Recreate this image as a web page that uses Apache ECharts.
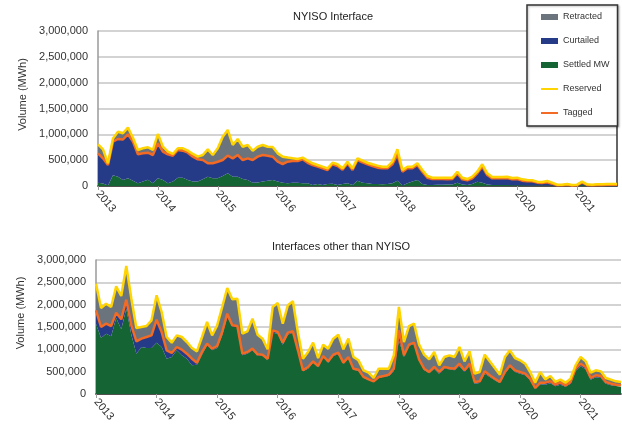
<!DOCTYPE html>
<html><head><meta charset="utf-8">
<script src="https://cdn.jsdelivr.net/npm/echarts@6/dist/echarts.min.js"></script>
<style>html,body{margin:0;padding:0;background:#fff}#c{width:622px;height:430px}</style>
</head><body><div id="c"></div>
<script>
// ---- data (monthly, Jan 2013 .. Sep 2021) ----
const years = ['2013','2014','2015','2016','2017','2018','2019','2020','2021'];
const seriesNames = ['Retracted','Curtailed','Settled MW','Reserved','Tagged'];
const yTicks = [0, 500000, 1000000, 1500000, 2000000, 2500000, 3000000];

// NYISO Interface
const nyisoReserved = [806000,710000,440000,920000,1050000,1020000,1130000,935000,697000,730000,750000,700000,
1006000,760000,665000,620000,730000,730000,684000,620000,568000,600000,710000,600000,
730000,955000,1084000,794000,910000,760000,794000,684000,760000,794000,760000,755000,
632000,568000,550000,535000,523000,550000,490000,440000,406000,374000,342000,450000,
420000,342000,470000,342000,535000,490000,450000,420000,394000,374000,374000,470000,
710000,310000,374000,374000,440000,310000,194000,161000,161000,161000,161000,161000,
277000,161000,135000,180000,277000,420000,245000,174000,174000,174000,180000,155000,
161000,129000,116000,110000,84000,77000,97000,65000,26000,26000,39000,20000,
26000,84000,32000,26000,32000,32000,39000,39000,39000];
const nyisoTagged = [632000,535000,406000,858000,910000,900000,1000000,860000,613000,632000,645000,600000,
826000,665000,613000,587000,697000,684000,645000,568000,516000,503000,440000,440000,
470000,503000,587000,535000,600000,503000,535000,503000,568000,600000,587000,568000,
470000,426000,470000,484000,484000,516000,450000,406000,374000,342000,310000,420000,
387000,316000,440000,310000,503000,458000,420000,387000,355000,342000,342000,420000,
613000,277000,342000,342000,406000,277000,161000,135000,135000,135000,130000,135000,
245000,129000,110000,148000,245000,374000,213000,148000,148000,148000,155000,129000,
135000,103000,90000,90000,65000,58000,71000,45000,13000,13000,26000,10000,
16000,65000,20000,16000,20000,20000,26000,26000,26000];
const nyisoSettled = [65000,50000,10000,210000,180000,115000,150000,100000,55000,85000,120000,55000,
150000,115000,55000,85000,160000,160000,115000,85000,85000,130000,180000,150000,
150000,195000,245000,180000,180000,135000,115000,65000,70000,85000,100000,115000,
85000,65000,52000,65000,65000,52000,52000,20000,40000,20000,40000,45000,
20000,40000,52000,20000,100000,65000,52000,40000,40000,32000,40000,52000,
100000,10000,52000,85000,115000,40000,20000,20000,25000,25000,30000,30000,
65000,30000,20000,40000,84000,65000,30000,20000,20000,20000,20000,15000,
15000,15000,10000,10000,10000,10000,10000,10000,5000,5000,5000,5000,
5000,20000,5000,5000,10000,10000,10000,15000,20000];

// Interfaces other than NYISO
const otherReserved = [2470000,1925000,2022000,1948000,2410000,2194000,2866000,2134000,1478000,1500000,1522000,1649000,
2209000,1836000,1276000,1149000,1313000,1276000,1164000,1030000,955000,1276000,1612000,1313000,
1537000,1948000,2373000,2119000,2134000,1351000,1403000,1687000,1328000,1239000,1000000,1948000,
2037000,1575000,1985000,2075000,1373000,791000,940000,1149000,806000,1104000,1015000,1239000,
1328000,1000000,1239000,828000,754000,530000,478000,358000,567000,567000,567000,866000,
1948000,1164000,1522000,1575000,1104000,881000,776000,940000,642000,828000,866000,828000,
1052000,731000,955000,455000,493000,881000,731000,582000,433000,828000,978000,806000,
754000,679000,493000,254000,493000,328000,403000,269000,321000,254000,343000,642000,
828000,731000,478000,530000,507000,358000,321000,284000,269000];
const otherTagged = [1873000,1500000,1575000,1522000,1821000,1672000,2112000,1537000,1179000,1239000,1276000,1313000,
1664000,1388000,978000,918000,1052000,993000,903000,791000,702000,940000,1127000,1015000,
1075000,1388000,1798000,1537000,1522000,903000,940000,1015000,888000,881000,791000,1425000,
1388000,1149000,1373000,1403000,978000,530000,605000,731000,627000,851000,731000,881000,
925000,702000,828000,567000,545000,381000,328000,284000,381000,403000,433000,567000,
1425000,866000,1104000,1149000,776000,567000,493000,605000,493000,605000,582000,567000,
679000,530000,679000,269000,284000,507000,418000,343000,269000,493000,642000,530000,
493000,455000,343000,134000,254000,254000,284000,209000,254000,194000,269000,567000,
679000,605000,358000,418000,403000,269000,231000,209000,194000];
const otherSettled = [1575000,1254000,1350000,1291000,1700000,1448000,1910000,1328000,903000,1052000,1030000,1030000,
1150000,1052000,791000,828000,978000,866000,791000,642000,657000,881000,1090000,978000,
1030000,1313000,1724000,1500000,1500000,866000,903000,978000,851000,851000,754000,1373000,
1351000,1104000,1328000,1373000,940000,507000,567000,702000,597000,828000,702000,851000,
888000,672000,791000,545000,522000,358000,313000,269000,358000,388000,403000,507000,
1201000,828000,1075000,1127000,746000,537000,463000,567000,448000,567000,552000,530000,
619000,493000,627000,231000,246000,455000,381000,306000,246000,455000,605000,493000,
455000,418000,306000,104000,216000,209000,239000,172000,209000,164000,231000,515000,
619000,552000,321000,373000,358000,231000,194000,179000,164000];

// ---- build ----
const months = [];
for (let i = 0; i < nyisoSettled.length; i++) {
  months.push(years[Math.floor(i / 12)] + '-' + String(i % 12 + 1).padStart(2, '0'));
}
const diff = (a, b) => a.map((v, i) => Math.max(0, v - b[i]));

const COL = { ret: '#6b737d', cur: '#263b88', set: '#146434', res: '#ffd400', tag: '#f26a24' };
const sans = "'Liberation Sans', Arial, sans-serif";

function xAxisFor(gi) {
  return {
    type: 'category', gridIndex: gi, data: months, boundaryGap: false,
    axisLine: { lineStyle: { color: '#9a9a9a', width: 1.5 } },
    axisTick: { length: 4, lineStyle: { color: '#9a9a9a' }, interval: (i) => i % 12 === 0 },
    axisLabel: {
      interval: (i) => i % 12 === 0, rotate: -50, margin: 6,
      formatter: (v) => v.slice(0, 4), color: '#333', fontSize: 11, fontFamily: sans
    },
    splitLine: { show: false }
  };
}
function topFrame(gi) {
  return { type: 'category', gridIndex: gi, data: months, position: 'top', boundaryGap: false,
    axisLine: { lineStyle: { color: '#333', width: 1.5 } }, axisTick: { show: false },
    axisLabel: { show: false }, splitLine: { show: false } };
}
function yAxisFor(gi) {
  return {
    type: 'value', gridIndex: gi, min: yTicks[0], max: yTicks[yTicks.length - 1], interval: yTicks[1],
    name: 'Volume (MWh)', nameLocation: 'middle', nameGap: 64,
    nameTextStyle: { color: '#333', fontSize: 11, fontFamily: sans, padding: [0, 0, 0, 28] },
    axisLine: { show: true, lineStyle: { color: '#9a9a9a', width: 1.5 } },
    axisTick: { show: false },
    axisLabel: { color: '#333', fontSize: 11, fontFamily: sans, margin: 10,
      formatter: (v) => v.toLocaleString('en-US') },
    splitLine: { lineStyle: { color: '#c4c4c4', width: 1.5 } }
  };
}
function seriesFor(gi, settled, tagged, reserved) {
  const ax = { xAxisIndex: gi * 2, yAxisIndex: gi * 2 };
  const area = (name, data, color) => Object.assign({
    name, type: 'line', stack: 'v' + gi, data, symbol: 'none',
    lineStyle: { width: 0 }, areaStyle: { color, opacity: 1 }, itemStyle: { color }
  }, ax);
  const line = (name, data, color) => Object.assign({
    name, type: 'line', data, symbol: 'none', z: 5,
    lineStyle: { width: 2.5, color }, itemStyle: { color }
  }, ax);
  return [
    area('Settled MW', settled, COL.set),
    area('Curtailed', diff(tagged, settled), COL.cur),
    area('Retracted', diff(reserved, tagged), COL.ret),
    line('Tagged', tagged, COL.tag),
    line('Reserved', reserved, COL.res)
  ];
}

const chart = echarts.init(document.getElementById('c'), null, { renderer: 'canvas' });
chart.setOption({
  animation: false,
  backgroundColor: '#fff',
  title: [
    { text: 'NYISO Interface', left: 333, top: 11, textAlign: 'center', padding: 0,
      textStyle: { fontSize: 11, fontWeight: 'normal', color: '#222', fontFamily: sans } },
    { text: 'Interfaces other than NYISO', left: 341, top: 241, textAlign: 'center', padding: 0,
      textStyle: { fontSize: 11, fontWeight: 'normal', color: '#222', fontFamily: sans } }
  ],
  legend: {
    orient: 'vertical', left: 527, top: 5,
    padding: [6, 8, 7, 13], itemGap: 12, itemWidth: 17, itemHeight: 6,
    backgroundColor: '#fff', borderColor: '#333', borderWidth: 1.5,
    shadowColor: 'rgba(0,0,0,0.25)', shadowBlur: 2, shadowOffsetX: 1, shadowOffsetY: 1,
    textStyle: { fontSize: 9, color: '#333', fontFamily: sans, lineHeight: 12 },
    data: [
      { name: seriesNames[0], icon: 'rect' },
      { name: seriesNames[1], icon: 'rect' },
      { name: seriesNames[2], icon: 'rect' },
      { name: seriesNames[3], itemStyle: { opacity: 0 } },
      { name: seriesNames[4], itemStyle: { opacity: 0 } }
    ]
  },
  grid: [
    { left: 98, top: 31, width: 519, height: 155 },
    { left: 96, top: 260, width: 525, height: 134 }
  ],
  xAxis: [xAxisFor(0), topFrame(0), xAxisFor(1), topFrame(1)],
  yAxis: [yAxisFor(0),
    { type: 'value', gridIndex: 0, position: 'right', min: 0, max: 3000000,
      axisLine: { show: true, lineStyle: { color: '#333', width: 1.5 } }, axisTick: { show: false },
      axisLabel: { show: false }, splitLine: { show: false } },
    yAxisFor(1),
    { type: 'value', gridIndex: 1, position: 'right', min: 0, max: 3000000, show: false }
  ],
  series: [].concat(
    seriesFor(0, nyisoSettled, nyisoTagged, nyisoReserved),
    seriesFor(1, otherSettled, otherTagged, otherReserved)
  )
});
</script></body></html>
